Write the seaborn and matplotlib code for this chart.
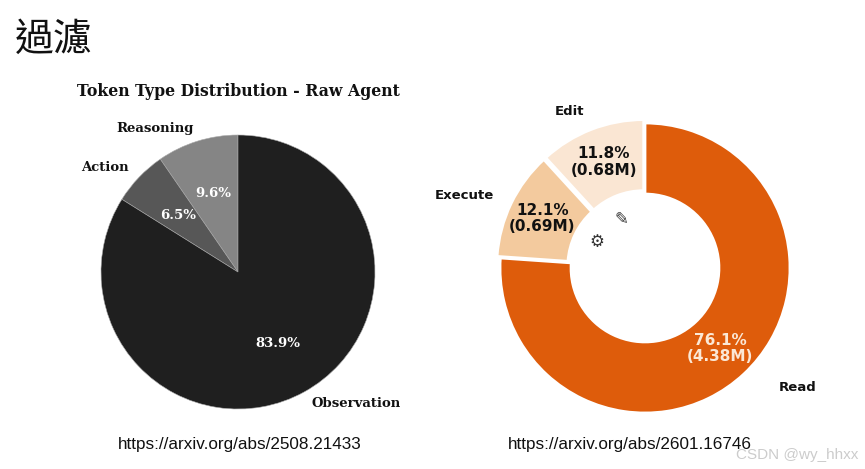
import matplotlib
matplotlib.use("Agg")
import matplotlib.pyplot as plt
import seaborn as sns
import numpy as np

sns.set_theme(style="white")
plt.rcParams['font.family'] = ['DejaVu Sans']

# ---- data ----
left_title = "Token Type Distribution - Raw Agent"
left_labels = ["Reasoning", "Action", "Observation"]
left_values = [9.6, 6.5, 83.9]
left_colors = ["#858585", "#575757", "#1f1f1f"]

right_labels = ["Edit", "Execute", "Read"]
right_pct = [11.8, 12.1, 76.1]
right_tokens_m = [0.68, 0.69, 4.38]
right_colors = ["#FAE6D3", "#F3CA9E", "#DE5C0B"]

page_title = "過濾"
left_url = "https://arxiv.org/abs/2508.21433"
right_url = "https://arxiv.org/abs/2601.16746"
watermark = "CSDN @wy_hhxx"

W, H = 865, 469
fig = plt.figure(figsize=(W / 100, H / 100), dpi=100)
fig.patch.set_facecolor("white")


def add_pie_axes(cx, cy, r, lim=1.25):
    half = r * lim
    ax = fig.add_axes([(cx - half) / W, (H - cy - half) / H, 2 * half / W, 2 * half / H])
    ax.set_xlim(-lim, lim)
    ax.set_ylim(-lim, lim)
    ax.set_axis_off()
    return ax


# ---- left pie ----
axL = add_pie_axes(238, 272, 137)
wL, tL, aL = axL.pie(
    left_values, labels=left_labels, colors=left_colors, startangle=90,
    autopct="%1.1f%%", pctdistance=0.6, labeldistance=1.1,
    wedgeprops=dict(edgecolor="#aaaaaa", linewidth=0.4),
    textprops=dict(family="DejaVu Serif", fontweight="bold", fontsize=9.5, color="#111111"),
    normalize=True,
)
for t in aL:
    t.set_color("white")
axL.set_xlim(-1.25, 1.25)
axL.set_ylim(-1.25, 1.25)
axL.set_aspect("auto")
fig.text(238 / W, 1 - 91 / H, left_title, ha="center", va="center",
         family="DejaVu Serif", fontweight="bold", fontsize=11.3, color="#111111")

# ---- right donut ----
axR = add_pie_axes(645, 268, 145)
pct_iter = iter(range(len(right_pct)))


def fmt(p):
    i = next(pct_iter)
    return f"{right_pct[i]:.1f}%\n({right_tokens_m[i]:.2f}M)"


wR, tR, aR = axR.pie(
    right_pct, labels=right_labels, colors=right_colors, startangle=90,
    explode=[0.025, 0.025, 0.0], autopct=fmt, pctdistance=0.76, labeldistance=1.13,
    wedgeprops=dict(width=0.49, edgecolor="white", linewidth=2),
    textprops=dict(family="DejaVu Sans", fontweight="bold", fontsize=9.5, color="#111111"),
    normalize=True,
)
for t in aR:
    t.set_fontsize(11)
    t.set_linespacing(1.12)
aR[2].set_color("#FBE8D6")
# push the "Read" label a little further out
x, y = tR[2].get_position()
tR[2].set_position((x * 1.2, y))
axR.set_xlim(-1.25, 1.25)
axR.set_ylim(-1.25, 1.25)
axR.set_aspect("auto")

# small icons in the hole
axR.text(-0.33, 0.18, "\u2699", ha="center", va="center", fontsize=12, color="#333333",
         family="DejaVu Sans")
axR.text(-0.16, 0.34, "\u270E", ha="center", va="center", fontsize=12, color="#333333",
         family="DejaVu Sans")

# ---- page texts ----
fig.text(15 / W, 1 - 40 / H, page_title, ha="left", va="center", fontsize=28,
         family=["Noto Sans CJK TC", "DejaVu Sans"], fontweight="light", color="#111111")
fig.text(240 / W, 1 - 444 / H, left_url, ha="center", va="center", fontsize=12.3,
         family="Liberation Sans", color="#111111")
fig.text(630 / W, 1 - 444 / H, right_url, ha="center", va="center", fontsize=12.3,
         family="Liberation Sans", color="#111111")
fig.text(858 / W, 1 - 455 / H, watermark, ha="right", va="center", fontsize=11,
         family="Liberation Sans", color="#cccccc")

fig.savefig("out.png", dpi=100, facecolor="white")
